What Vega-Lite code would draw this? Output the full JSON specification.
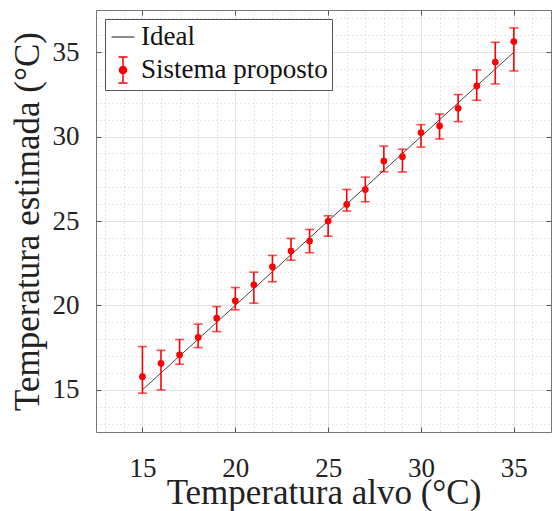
{
  "$schema": "https://vega.github.io/schema/vega-lite/v6.json",
  "width": 455,
  "height": 422,
  "autosize": {"type": "none"},
  "padding": {"left": 96, "top": 10, "right": 1, "bottom": 79},
  "background": "white",
  "config": {
    "view": {"stroke": null},
    "font": "Liberation Serif",
    "axis": {
      "labelFont": "Liberation Serif",
      "titleFont": "Liberation Serif",
      "labelColor": "#222222",
      "titleColor": "#222222",
      "titleFontWeight": "normal",
      "domainColor": "#777777",
      "tickColor": "#555555"
    },
    "legend": {
      "labelFont": "Liberation Serif",
      "title": null,
      "orient": "top-left",
      "offset": 9,
      "padding": 4,
      "strokeColor": "#555555",
      "fillColor": "white",
      "cornerRadius": 0,
      "labelFontSize": 27,
      "labelLimit": 400,
      "labelColor": "#111111",
      "labelOffset": 4,
      "symbolSize": 676,
      "symbolOpacity": 1,
      "symbolStrokeWidth": 1.5,
      "rowPadding": 4
    }
  },
  "datasets": {
    "ideal": [
      {"alvo": 15, "est": 15},
      {"alvo": 35, "est": 35}
    ],
    "meas": [
      {"alvo": 15, "est": 15.78, "low": 14.8, "high": 17.56, "serie": "Sistema proposto"},
      {"alvo": 16, "est": 16.57, "low": 14.99, "high": 17.34, "serie": "Sistema proposto"},
      {"alvo": 17, "est": 17.07, "low": 16.51, "high": 17.98, "serie": "Sistema proposto"},
      {"alvo": 18, "est": 18.1, "low": 17.5, "high": 18.89, "serie": "Sistema proposto"},
      {"alvo": 19, "est": 19.24, "low": 18.45, "high": 19.93, "serie": "Sistema proposto"},
      {"alvo": 20, "est": 20.27, "low": 19.74, "high": 21.06, "serie": "Sistema proposto"},
      {"alvo": 21, "est": 21.22, "low": 20.13, "high": 21.97, "serie": "Sistema proposto"},
      {"alvo": 22, "est": 22.29, "low": 21.4, "high": 22.96, "serie": "Sistema proposto"},
      {"alvo": 23, "est": 23.22, "low": 22.68, "high": 23.97, "serie": "Sistema proposto"},
      {"alvo": 24, "est": 23.81, "low": 23.12, "high": 24.5, "serie": "Sistema proposto"},
      {"alvo": 25, "est": 25.0, "low": 24.1, "high": 25.31, "serie": "Sistema proposto"},
      {"alvo": 26, "est": 25.98, "low": 25.59, "high": 26.87, "serie": "Sistema proposto"},
      {"alvo": 27, "est": 26.86, "low": 26.14, "high": 27.6, "serie": "Sistema proposto"},
      {"alvo": 28, "est": 28.55, "low": 27.92, "high": 29.44, "serie": "Sistema proposto"},
      {"alvo": 29, "est": 28.81, "low": 27.9, "high": 29.25, "serie": "Sistema proposto"},
      {"alvo": 30, "est": 30.24, "low": 29.38, "high": 30.71, "serie": "Sistema proposto"},
      {"alvo": 31, "est": 30.63, "low": 29.86, "high": 31.34, "serie": "Sistema proposto"},
      {"alvo": 32, "est": 31.68, "low": 30.89, "high": 32.49, "serie": "Sistema proposto"},
      {"alvo": 33, "est": 33.0, "low": 32.15, "high": 33.95, "serie": "Sistema proposto"},
      {"alvo": 34, "est": 34.42, "low": 33.12, "high": 35.59, "serie": "Sistema proposto"},
      {"alvo": 35, "est": 35.63, "low": 33.89, "high": 36.44, "serie": "Sistema proposto"}
    ]
  },
  "resolve": {"axis": {"x": "independent", "y": "independent"}},
  "layer": [
    {
      "data": {"name": "ideal"},
      "mark": {"type": "line", "color": "#444444", "strokeWidth": 1},
      "encoding": {
        "x": {
          "field": "alvo", "type": "quantitative",
          "scale": {"domain": [12.5, 37], "nice": false, "zero": false},
          "axis": {
            "orient": "bottom",
            "values": [13,14,15,16,17,18,19,20,21,22,23,24,25,26,27,28,29,30,31,32,33,34,35,36,37],
            "labels": false, "ticks": false, "domain": false, "title": null,
            "grid": true, "gridColor": "#cccccc", "gridDash": [1, 3], "gridWidth": 1
          }
        },
        "y": {
          "field": "est", "type": "quantitative",
          "scale": {"domain": [12.5, 37.5], "nice": false, "zero": false},
          "axis": {
            "orient": "left",
            "values": [13,14,15,16,17,18,19,20,21,22,23,24,25,26,27,28,29,30,31,32,33,34,35,36,37],
            "labels": false, "ticks": false, "domain": false, "title": null,
            "grid": true, "gridColor": "#cccccc", "gridDash": [1, 3], "gridWidth": 1
          }
        }
      }
    },
    {
      "data": {"name": "meas"},
      "mark": {"type": "rule", "color": "#ff0000", "strokeWidth": 1.6},
      "encoding": {
        "x": {
          "field": "alvo", "type": "quantitative",
          "axis": {
            "orient": "bottom",
            "values": [15, 20, 25, 30, 35],
            "grid": true, "gridColor": "#e3e3e3", "gridWidth": 1,
            "tickSize": -5, "tickWidth": 1, "labelPadding": 28,
            "labelFontSize": 27, "domainColor": "#777777",
            "title": "Temperatura alvo (°C)", "titleFontSize": 35, "titlePadding": -6
          }
        },
        "y": {
          "field": "low", "type": "quantitative",
          "axis": {
            "orient": "left",
            "values": [15, 20, 25, 30, 35],
            "grid": true, "gridColor": "#e3e3e3", "gridWidth": 1,
            "tickSize": -5, "tickWidth": 1, "labelPadding": 22,
            "labelFontSize": 27,
            "title": "Temperatura estimada (°C)", "titleFontSize": 35, "titlePadding": 7
          }
        },
        "y2": {"field": "high"}
      }
    },
    {
      "data": {"name": "meas"},
      "mark": {"type": "tick", "orient": "horizontal", "color": "#ff0000", "thickness": 1.6, "size": 9},
      "encoding": {
        "x": {
          "field": "alvo", "type": "quantitative",
          "axis": {
            "orient": "top", "values": [15, 20, 25, 30, 35],
            "labels": false, "grid": false, "tickSize": -5, "title": null
          }
        },
        "y": {
          "field": "low", "type": "quantitative",
          "axis": {
            "orient": "right", "values": [15, 20, 25, 30, 35],
            "labels": false, "grid": false, "tickSize": -5, "title": null
          }
        }
      }
    },
    {
      "data": {"name": "meas"},
      "mark": {"type": "tick", "orient": "horizontal", "color": "#ff0000", "thickness": 1.6, "size": 9},
      "encoding": {
        "x": {"field": "alvo", "type": "quantitative", "axis": null},
        "y": {"field": "high", "type": "quantitative", "axis": null}
      }
    },
    {
      "data": {"name": "meas"},
      "mark": {"type": "point", "filled": true, "opacity": 1, "size": 45, "color": "#ff0000"},
      "encoding": {
        "x": {"field": "alvo", "type": "quantitative", "axis": null},
        "y": {"field": "est", "type": "quantitative", "axis": null}
      }
    },
    {
      "data": {"name": "meas"},
      "mark": {"type": "point", "filled": true, "opacity": 0, "size": 10},
      "encoding": {
        "x": {"field": "alvo", "type": "quantitative", "axis": null},
        "y": {"field": "est", "type": "quantitative", "axis": null},
        "fill": {
          "field": "serie", "type": "nominal",
          "scale": {"domain": ["Ideal", "Sistema proposto"], "range": ["#666666", "#ff0000"]}
        },
        "stroke": {
          "field": "serie", "type": "nominal",
          "scale": {"domain": ["Ideal", "Sistema proposto"], "range": ["#666666", "#ff0000"]}
        },
        "shape": {
          "field": "serie", "type": "nominal",
          "scale": {
            "domain": ["Ideal", "Sistema proposto"],
            "range": [
              "M-0.88,0H0.88",
              "M0,-1V1M-0.35,-1H0.35M-0.35,1H0.35M0.27,0A0.27,0.27,0,1,1,-0.27,0A0.27,0.27,0,1,1,0.27,0Z"
            ]
          }
        }
      }
    }
  ]
}
